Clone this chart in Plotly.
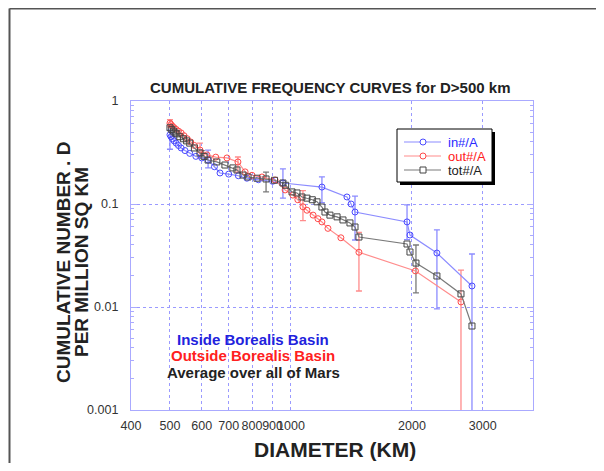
import plotly.graph_objects as go

# ---- data ----
in_D = [500, 503, 507, 512, 518, 525, 533, 545, 560, 580, 600, 622, 645, 666, 700, 740, 777, 830, 900, 955,
        1194, 1378, 1411, 1443, 1944, 1977, 2307, 2820]
in_N = [0.47, 0.45, 0.43, 0.41, 0.39, 0.37, 0.35, 0.33, 0.31, 0.29, 0.28, 0.267, 0.23, 0.20, 0.195, 0.188,
        0.178, 0.172, 0.166, 0.16, 0.146, 0.117, 0.10, 0.0836, 0.067, 0.05, 0.0334, 0.016]

out_D = [500, 503, 507, 512, 518, 525, 533, 542, 552, 563, 575, 594, 618, 650, 693, 738, 769, 800, 847, 913,
         967, 1011, 1040, 1071, 1096, 1135, 1167, 1194, 1236, 1331, 1476, 2040, 2648]
out_N = [0.61, 0.59, 0.57, 0.55, 0.53, 0.51, 0.49, 0.46, 0.43, 0.40, 0.37, 0.334, 0.30, 0.285, 0.28, 0.256,
         0.205, 0.19, 0.183, 0.171, 0.137, 0.122, 0.11, 0.094, 0.087, 0.078, 0.072, 0.067, 0.058, 0.047,
         0.034, 0.0224, 0.0112]

tot_D = [500, 505, 510, 515, 520, 529, 540, 550, 560, 575, 594, 608, 622, 654, 685, 717, 734, 760, 782, 823,
         867, 910, 955, 970, 1006, 1035, 1065, 1096, 1130, 1161, 1194, 1215, 1250, 1302, 1347, 1402, 1443,
         1476, 1944, 1977, 2046, 2307, 2648, 2820]
tot_N = [0.55, 0.53, 0.51, 0.49, 0.48, 0.45, 0.43, 0.41, 0.39, 0.35, 0.313, 0.29, 0.267, 0.256, 0.239, 0.224,
         0.214, 0.191, 0.183, 0.178, 0.175, 0.17, 0.16, 0.152, 0.131, 0.128, 0.117, 0.114, 0.11, 0.105,
         0.0935, 0.0836, 0.078, 0.075, 0.07, 0.0655, 0.0598, 0.0478, 0.0409, 0.0342, 0.0267, 0.02, 0.0134,
         0.00654]

# error bars: diameter, value, upper, lower
in_err_D = [500, 622, 955, 1194, 1443, 1944, 2307, 2820]
in_err_N = [0.47, 0.267, 0.16, 0.146, 0.0836, 0.067, 0.0334, 0.016]
in_err_hi = [0.52, 0.334, 0.219, 0.183, 0.119, 0.098, 0.056, 0.0327]
in_err_lo = [0.34, 0.224, 0.114, 0.103, 0.0447, 0.045, 0.0096, 0.0001]

out_err_D = [500, 594, 738, 1071, 1476, 2648]
out_err_N = [0.61, 0.334, 0.256, 0.094, 0.034, 0.0112]
out_err_hi = [0.66, 0.39, 0.286, 0.135, 0.053, 0.0228]
out_err_lo = [0.56, 0.28, 0.204, 0.069, 0.0143, 0.0001]

tot_err_D = [600, 867, 2046]
tot_err_N = [0.30, 0.175, 0.0267]
tot_err_hi = [0.33, 0.204, 0.04]
tot_err_lo = [0.28, 0.131, 0.0137]

x_ticks = [400, 500, 600, 700, 800, 900, 1000, 2000, 3000]
x_ticktext = ["400", "500", "600", "700", "800", "900", "1000", "2000", "3000"]
y_ticks = [0.001, 0.01, 0.1, 1]
y_ticktext = ["0.001", "0.01", "0.1", "1"]

series_names = ["in#/A", "out#/A", "tot#/A"]
series = [
    (in_D, in_N, in_err_D, in_err_N, in_err_hi, in_err_lo, "#8c8cff", "#4a4aff", "circle-open", "#2a2aff"),
    (out_D, out_N, out_err_D, out_err_N, out_err_hi, out_err_lo, "#ff8c8c", "#ff4a4a", "circle-open", "#ff2020"),
    (tot_D, tot_N, tot_err_D, tot_err_N, tot_err_hi, tot_err_lo, "#7a7a7a", "#444444", "square-open", "#222222"),
]

fig = go.Figure()

for D, N, eD, eN, ehi, elo, lc, mc, sym, tc in series:
    fig.add_trace(go.Scatter(
        x=eD, y=eN, mode="markers", showlegend=False, hoverinfo="skip",
        marker=dict(size=1, opacity=0),
        error_y=dict(type="data", symmetric=False,
                     array=[h - v for h, v in zip(ehi, eN)],
                     arrayminus=[v - l for v, l in zip(eN, elo)],
                     color=lc, thickness=1.3, width=3),
    ))

for name, (D, N, eD, eN, ehi, elo, lc, mc, sym, tc) in zip(series_names, series):
    fig.add_trace(go.Scatter(
        x=D, y=N, mode="lines+markers", name=name, showlegend=False,
        line=dict(color=lc, width=1.2),
        marker=dict(symbol=sym, size=6, color=mc, line=dict(width=1, color=mc)),
    ))

axis_col = "#aaaaff"
grid_col = "#9a9aff"
tick_font = dict(family="Arial", size=12.5, color="#333333")

fig.update_xaxes(type="log", range=[2.60206, 3.60206], tickvals=x_ticks, ticktext=x_ticktext,
                 tickangle=0, showline=True, linecolor=axis_col, linewidth=1.3, mirror=True,
                 showgrid=True, gridcolor=grid_col, griddash="dot", gridwidth=1,
                 ticks="", ticklabelstandoff=4, tickfont=tick_font, zeroline=False)
fig.update_yaxes(type="log", range=[-3, 0], tickvals=y_ticks, ticktext=y_ticktext,
                 showline=True, linecolor=axis_col, linewidth=1.3, mirror="ticks",
                 showgrid=True, gridcolor=grid_col, griddash="dot", gridwidth=1,
                 ticks="inside", ticklen=6, tickcolor=axis_col,
                 minor=dict(ticks="inside", ticklen=3, tickcolor=axis_col, showgrid=False,
                            tickvals=[k * 10 ** e for e in (-3, -2, -1) for k in range(2, 10)]),
                 ticklabelstandoff=9, tickfont=tick_font, zeroline=False)

# screen pixel -> paper helpers (plot area spans x 131..533, y 101..410 on screen)
def px(x):
    return (x - 131) / 402

def py(y):
    return (410 - y) / 309

shapes = []
# outer frame
shapes.append(dict(type="line", xref="paper", yref="paper", x0=px(9.5), x1=px(9.5), y0=-0.5, y1=py(8.5),
                   line=dict(color="#555555", width=2)))
shapes.append(dict(type="line", xref="paper", yref="paper", x0=px(9.5), x1=1.5, y0=py(8.5), y1=py(8.5),
                   line=dict(color="#555555", width=2)))
# legend box with shadow
shapes.append(dict(type="rect", xref="paper", yref="paper", x0=px(400), x1=px(495), y0=py(185), y1=py(132),
                   fillcolor="black", line=dict(width=0), layer="above"))
shapes.append(dict(type="rect", xref="paper", yref="paper", x0=px(397), x1=px(492), y0=py(182), y1=py(129),
                   fillcolor="white", line=dict(color="black", width=1), layer="above"))

annotations = []
leg_y = [142, 156, 170]
for name, ly, (D, N, eD, eN, ehi, elo, lc, mc, sym, tc) in zip(series_names, leg_y, series):
    shapes.append(dict(type="line", xref="paper", yref="paper", x0=px(404), x1=px(441), y0=py(ly), y1=py(ly),
                       line=dict(color=lc, width=1.2), layer="above"))
    shapes.append(dict(type="circle" if sym.startswith("circle") else "rect", xref="paper", yref="paper",
                       x0=px(420), x1=px(426), y0=py(ly + 3), y1=py(ly - 3),
                       fillcolor="white", line=dict(color=mc, width=1), layer="above"))
    annotations.append(dict(text=name, xref="paper", yref="paper", x=px(446), y=py(ly),
                            xanchor="left", yanchor="middle", showarrow=False,
                            font=dict(family="Arial", size=13, color=tc)))

def ann(text, x, y, size, color, angle=0):
    return dict(text=text, xref="paper", yref="paper", x=px(x), y=py(y), xanchor="center",
                yanchor="middle", showarrow=False, textangle=angle,
                font=dict(family="Arial", size=size, color=color))

annotations += [
    ann("<b>CUMULATIVE FREQUENCY CURVES for D>500 km</b>", 330, 88, 15, "#222222"),
    ann("<b>CUMULATIVE NUMBER . D</b>", 63, 263, 19, "#222222", -90),
    ann("<b>PER MILLION SQ KM</b>", 81, 262, 19, "#222222", -90),
    ann("<b>DIAMETER (KM)</b>", 335, 449, 21, "#222222"),
    ann("<b>Inside Borealis Basin</b>", 253, 339, 15, "#2222dd"),
    ann("<b>Outside Borealis Basin</b>", 253, 355, 15, "#ff2020"),
    ann("<b>Average over all of Mars</b>", 253, 372, 15, "#222222"),
]

fig.update_layout(
    width=588, height=455,
    margin=dict(l=123, r=63, t=93, b=53),
    paper_bgcolor="white", plot_bgcolor="white",
    font=dict(family="Arial"),
    showlegend=False,
    shapes=shapes,
    annotations=annotations,
)

fig.write_html("out.html")
